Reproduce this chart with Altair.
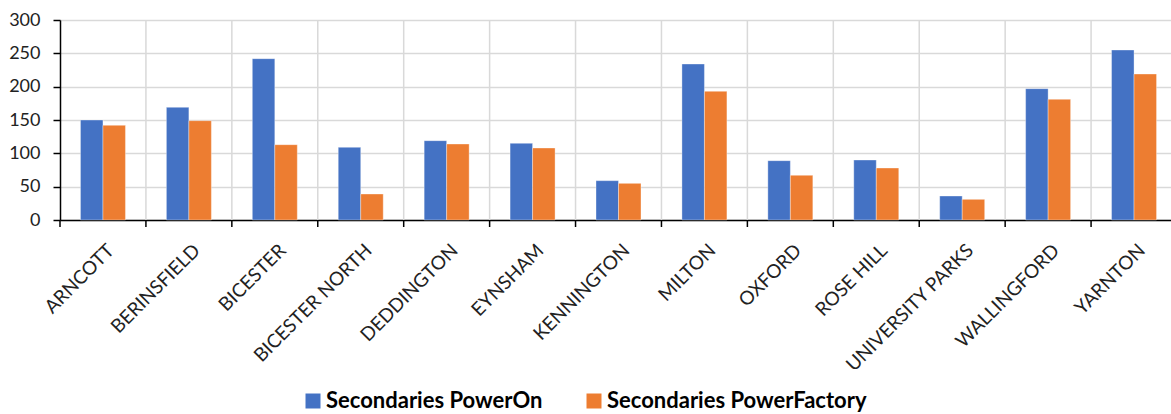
import altair as alt
import pandas as pd

# Substations and counts of secondaries found in each system
categories = [
    "ARNCOTT", "BERINSFIELD", "BICESTER", "BICESTER NORTH", "DEDDINGTON",
    "EYNSHAM", "KENNINGTON", "MILTON", "OXFORD", "ROSE HILL",
    "UNIVERSITY PARKS", "WALLINGFORD", "YARNTON",
]
series = ["Secondaries PowerOn", "Secondaries PowerFactory"]
poweron = [150, 169, 242, 109, 119, 115, 59, 234, 89, 90, 36, 197, 255]
powerfactory = [142, 149, 113, 39, 114, 108, 55, 193, 67, 78, 31, 181, 219]
y_ticks = [0, 50, 100, 150, 200, 250, 300]
colors = ["#4472C4", "#ED7D31"]

rows = []
for cat, a, b in zip(categories, poweron, powerfactory):
    rows.append({"Substation": cat, "Series": series[0], "Count": a})
    rows.append({"Substation": cat, "Series": series[1], "Count": b})
df = pd.DataFrame(rows)
cats_df = pd.DataFrame({"Substation": categories})
grid_df = pd.DataFrame({"Substation": categories[1:]})

FONT = "Lato"
TEXT = "#222222"

x_scale = alt.Scale(domain=categories, range=[0, 1117], paddingInner=0, paddingOuter=0)
x_axis = alt.Axis(
    title=None,
    labelAngle=-45,
    labelAlign="right",
    labelBaseline="middle",
    labelPadding=27,
    labelOffset=8,
    ticks=False,
    tickSize=0,
    grid=False,
    domainColor="#000000",
    domainWidth=1.5,
    labelFont=FONT,
    labelFontSize=19,
    labelColor=TEXT,
    labelLimit=0,
)

# vertical separators between substations
vgrid = alt.Chart(grid_df).mark_rule(color="#d9d9d9", strokeWidth=1.5).encode(
    x=alt.X("Substation:N", scale=x_scale, sort=categories, bandPosition=0, axis=x_axis),
    y=alt.value(0),
    y2=alt.value(200),
)

# category tick marks below the axis line
xticks = alt.Chart(cats_df).mark_rule(color="#000000", strokeWidth=1.5).encode(
    x=alt.X("Substation:N", scale=x_scale, sort=categories, bandPosition=0, axis=x_axis),
    y=alt.value(200),
    y2=alt.value(207),
)

bars = alt.Chart(df).mark_bar(
    stroke="white", strokeOpacity=0.35, strokeWidth=1
).encode(
    x=alt.X("Substation:N", scale=x_scale, sort=categories, axis=x_axis),
    xOffset=alt.XOffset(
        "Series:N",
        sort=series,
        scale=alt.Scale(domain=series, paddingOuter=0.91, paddingInner=0),
    ),
    y=alt.Y(
        "Count:Q",
        scale=alt.Scale(domain=[0, 300], nice=False),
        axis=alt.Axis(
            title=None,
            values=y_ticks,
            grid=True,
            gridColor="#d9d9d9",
            gridWidth=1.5,
            domainColor="#000000",
            domainWidth=1.5,
            tickColor="#000000",
            tickWidth=1.5,
            tickSize=7,
            labelPadding=13,
            labelFont=FONT,
            labelFontSize=18,
            labelColor=TEXT,
        ),
    ),
    color=alt.Color(
        "Series:N",
        sort=series,
        scale=alt.Scale(domain=series, range=colors),
        legend=alt.Legend(
            title=None,
            orient="none",
            direction="horizontal",
            legendX=242,
            legendY=370,
            symbolType="square",
            symbolSize=225,
            symbolStrokeWidth=0,
            labelFont=FONT,
            labelFontSize=22,
            labelFontWeight="bold",
            labelColor="#000000",
            labelOffset=2,
            labelLimit=0,
            columnPadding=40,
        ),
    ),
)

chart = alt.layer(vgrid, xticks, bars).properties(
    width=1111,
    height=200,
    padding={"left": 60, "top": 20, "right": 0, "bottom": 194},
    autosize=alt.AutoSizeParams(type="none"),
).configure_view(strokeWidth=0).configure(background="white")

chart.save("out.html", embed_options={"renderer": "svg", "actions": False})
